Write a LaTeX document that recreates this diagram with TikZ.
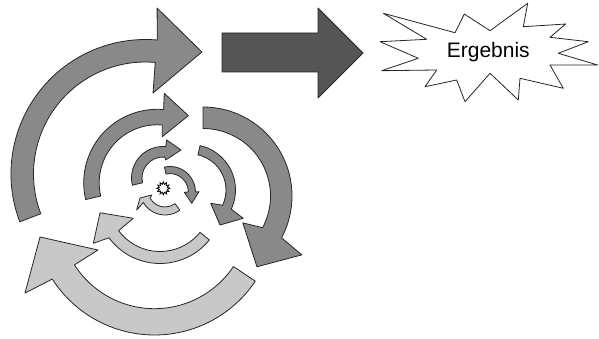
\documentclass[tikz,border=0pt]{standalone}
\usepackage{fontspec}
\setmainfont{Liberation Sans}
\usetikzlibrary{shapes.geometric}
\definecolor{ringgray}{HTML}{898989}
\definecolor{ringlight}{HTML}{C8C8C8}
\definecolor{bigdark}{HTML}{555555}
\tikzset{ringline/.style = {draw = black!85, line width = 0.8pt, line join = round}}
\newcommand{\ringarrow}[9]{%
\filldraw[ringline, fill = #1, shift = {#2}] (#5:#3) arc[start angle = #5, end angle = #6, radius = #3]
  -- (#7) -- (#8) -- (#9) -- (#6:#4) arc[start angle = #6, end angle = #5, radius = #4] -- cycle;}
\begin{document}
\begin{tikzpicture}[x = 1pt, y = 1pt]
\useasboundingbox (0,0) rectangle (599,338);
\ringarrow{ringgray}{(145.5,164)}{134.5}{112}{200.8}{85}{86:166.4}{65.2:134.4}{84.7:81.3}
\ringarrow{ringgray}{(203,142)}{89}{67.5}{90}{-28}{-30.8:115}{-52.7:89}{-34:48}
\ringarrow{ringlight}{(154.5,124.3)}{121.3}{95}{-33.8}{-147.4}{-148.5:151.9}{-168.5:116.8}{-147.3:67.2}
\ringarrow{ringgray}{(157.2,155.2)}{73.5}{58}{193.2}{85}{85.5:89.8}{65.1:74}{83.7:46.4}
\ringarrow{ringgray}{(190,148)}{45.5}{36}{77.2}{-25}{-28:60.3}{-49.4:46.1}{-32.7:24.6}
\ringarrow{ringlight}{(160,138)}{63.5}{51.5}{-39}{-143.5}{-147:79.5}{-168:61.3}{-145.6:32.4}
\ringarrow{ringgray}{(163,160)}{31.5}{21}{193.2}{85}{84.4:38.2}{57.3:33.3}{81.5:18.2}
\ringarrow{ringgray}{(170,146)}{25.5}{18.4}{102.6}{0}{0.6:29}{-27.5:24.5}{-1:14.3}
\ringarrow{ringlight}{(165,148)}{25}{17}{-53.6}{-150}{-144.8:34.7}{-162.3:26.2}{-159.4:14.2}
\node[star, star points = 12, star point ratio = 1.6, minimum size = 13pt, inner sep = 0pt,
  draw = black, line width = 0.8pt, fill = white] (spark) at (163.3,149.7) {};
\filldraw[ringline, fill = bigdark] (222,305) -- (318,305) -- (318,330) -- (363,285)
  -- (318,240) -- (318,266) -- (222,266) -- cycle;
\filldraw[ringline, fill = white] (383.3,324.7) -- (455,305.3) -- (464.3,324) -- (490,307.3)
  -- (527.7,334.7) -- (523.3,311.3) -- (565.7,314) -- (550,300.7) -- (588.3,296.3)
  -- (558.3,284.7) -- (597.7,273) -- (550,273) -- (563.3,249.7) -- (520,259.7)
  -- (518.3,238) -- (490,264.7) -- (465,236.3) -- (456.7,258) -- (425,251.3)
  -- (436.7,268) -- (381.7,267.3) -- (418.3,279.7) -- (380,296.3) -- (426.7,298.7) -- cycle;
\node[anchor = base, font = \fontsize{21}{25}\selectfont] (result) at (488.3,280) {Ergebnis};
\end{tikzpicture}
\end{document}
